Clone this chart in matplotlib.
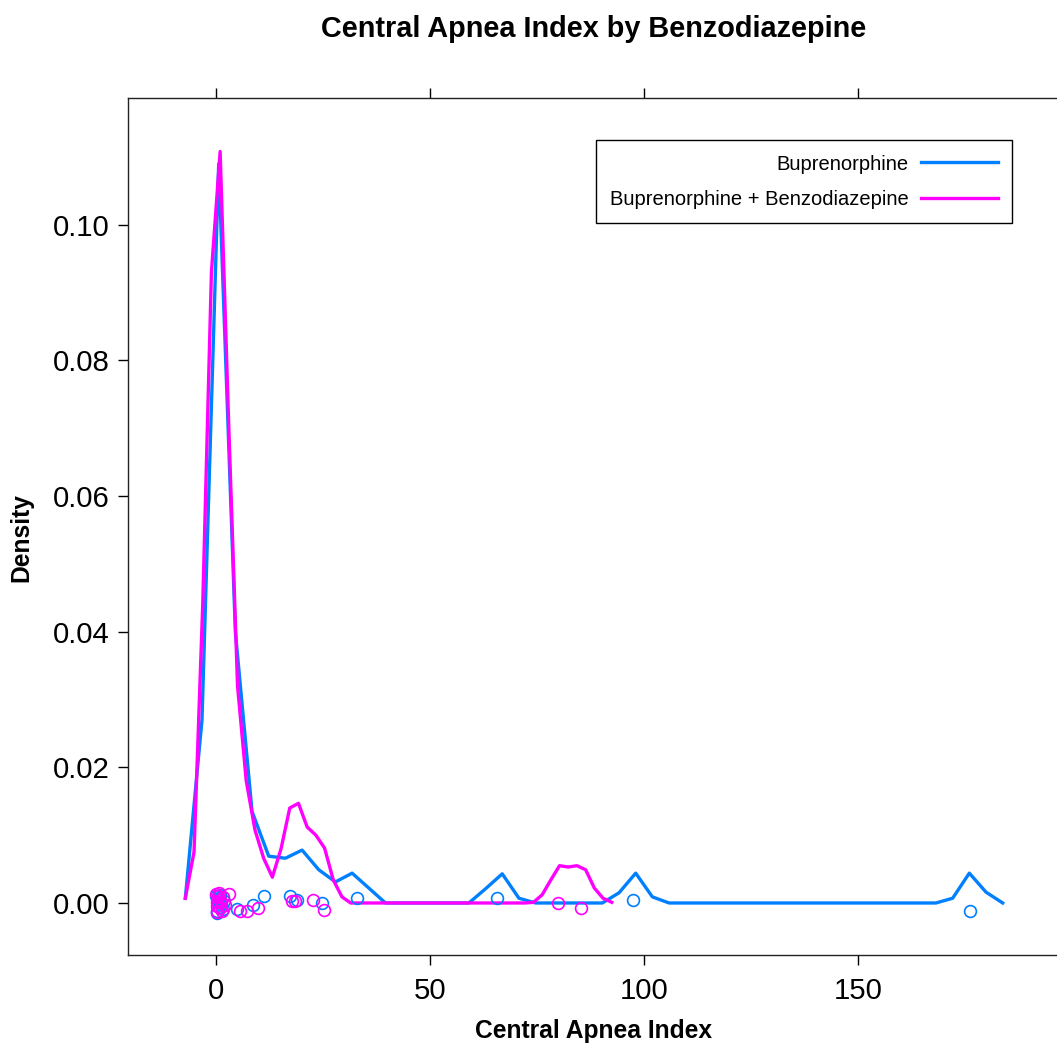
import matplotlib
matplotlib.use("Agg")
import matplotlib.pyplot as plt

plt.rcParams['font.family'] = ['Liberation Sans', 'DejaVu Sans']

# density curves (lattice densityplot, 50 grid points each)
bup_x0, bup_x1 = -7.2, 183.9
bup_y = [0.0007, 0.027, 0.109, 0.040, 0.0135, 0.0069, 0.0066, 0.0078, 0.0049, 0.0031,
         0.0044, 0.0022, 0.0, 0.0, 0.0, 0.0, 0.0, 0.0, 0.0021, 0.0043,
         0.0007, 0.0, 0.0, 0.0, 0.0, 0.0, 0.0015, 0.0044, 0.0009, 0.0,
         0.0, 0.0, 0.0, 0.0, 0.0, 0.0, 0.0, 0.0, 0.0, 0.0,
         0.0, 0.0, 0.0, 0.0, 0.0, 0.0, 0.0007, 0.0044, 0.0016, 0.0]

benz_x0, benz_x1 = -7.2, 92.5
benz_y = [0.0007, 0.0075, 0.044, 0.093, 0.1108, 0.070, 0.032, 0.018, 0.0108, 0.0066,
          0.0038, 0.008, 0.014, 0.0147, 0.0112, 0.0100, 0.0081, 0.0034, 0.0009, 0.0,
          0.0, 0.0, 0.0, 0.0, 0.0, 0.0, 0.0, 0.0, 0.0, 0.0,
          0.0, 0.0, 0.0, 0.0, 0.0, 0.0, 0.0, 0.0, 0.0, 0.0,
          0.0001, 0.0012, 0.0034, 0.0055, 0.0053, 0.0055, 0.0049, 0.0022, 0.0007, 0.0001]

# raw observations (jittered around zero, as drawn)
bup_pts_x = [0.0, 0.2, 0.4, 0.6, 0.9, 1.2, 1.5, 1.9, 0.1, 0.7,
             4.9, 8.6, 11.2, 17.3, 18.9, 24.8, 32.9, 65.7, 97.4, 176.2]
bup_pts_y = [0.0010, -0.0012, 0.0004, -0.0006, 0.0012, -0.0002, -0.0009, 0.0003, -0.0015, 0.0007,
             -0.0009, -0.0003, 0.0010, 0.0010, 0.0004, 0.0000, 0.0007, 0.0008, 0.0004, -0.0012]
benz_pts_x = [0.0, 0.1, 0.3, 0.5, 0.8, 1.0, 1.3, 1.6, 2.0, 0.2, 0.6, 1.1,
              3.0, 5.6, 7.2, 9.8, 17.8, 18.5, 22.7, 25.2, 80.0, 85.3]
benz_pts_y = [0.0013, -0.0014, 0.0002, 0.0011, -0.0008, 0.0005, -0.0012, 0.0009, -0.0003, -0.0005, 0.0014, 0.0001,
              0.0013, -0.0012, -0.0012, -0.0007, 0.0003, 0.0003, 0.0004, -0.0010, 0.0000, -0.0007]

labels = ["Buprenorphine", "Buprenorphine + Benzodiazepine"]
colors = ["#0080ff", "#ff00ff"]

def grid(a, b, n):
    return [a + (b - a) * i / (n - 1) for i in range(n)]

fig = plt.figure(figsize=(10.57, 10.50), dpi=100)
ax = fig.add_axes([128 / 1057, 95 / 1050, (1060 - 128) / 1057, 857 / 1050])

ax.plot(grid(bup_x0, bup_x1, len(bup_y)), bup_y, color=colors[0], lw=2.4, label=labels[0])
ax.plot(grid(benz_x0, benz_x1, len(benz_y)), benz_y, color=colors[1], lw=2.4, label=labels[1])
ax.plot(bup_pts_x, bup_pts_y, 'o', mfc='none', mec=colors[0], ms=8.5, mew=1.2)
ax.plot(benz_pts_x, benz_pts_y, 'o', mfc='none', mec=colors[1], ms=8.5, mew=1.2)

ax.set_xlim(-20.6, 197.3)
ax.set_ylim(-0.00767, 0.1187)
ax.set_xticks([0, 50, 100, 150])
ax.set_yticks([0.0, 0.02, 0.04, 0.06, 0.08, 0.10])
ax.set_yticklabels(["0.00", "0.02", "0.04", "0.06", "0.08", "0.10"])
ax.tick_params(direction='out', length=7, width=1, labelsize=21.2, pad=6,
               top=True, right=True)
ax.tick_params(axis='x', pad=9)
for s in ax.spines.values():
    s.set_linewidth(1)
    s.set_color('#222222')

ax.set_title("Central Apnea Index by Benzodiazepine", fontsize=20.8, fontweight='bold', pad=44)
ax.set_xlabel("Central Apnea Index", fontsize=17.7, fontweight='bold', labelpad=10)
ax.set_ylabel("Density", fontsize=17.7, fontweight='bold')
ax.yaxis.set_label_coords(33 / 1057, 1 - 538 / 1050, transform=fig.transFigure)

leg = ax.legend(loc='upper right', bbox_to_anchor=(1012 / 1057, 1 - 140 / 1050),
                bbox_transform=fig.transFigure, markerfirst=False, fontsize=14.5,
                frameon=True, fancybox=False, framealpha=1, edgecolor='black',
                handlelength=3.8, handletextpad=0.6, borderpad=0.72, labelspacing=0.8,
                borderaxespad=0)
leg.get_frame().set_linewidth(1)
for l in leg.get_lines():
    l.set_linewidth(2.4)

fig.savefig("out.png", dpi=100)
